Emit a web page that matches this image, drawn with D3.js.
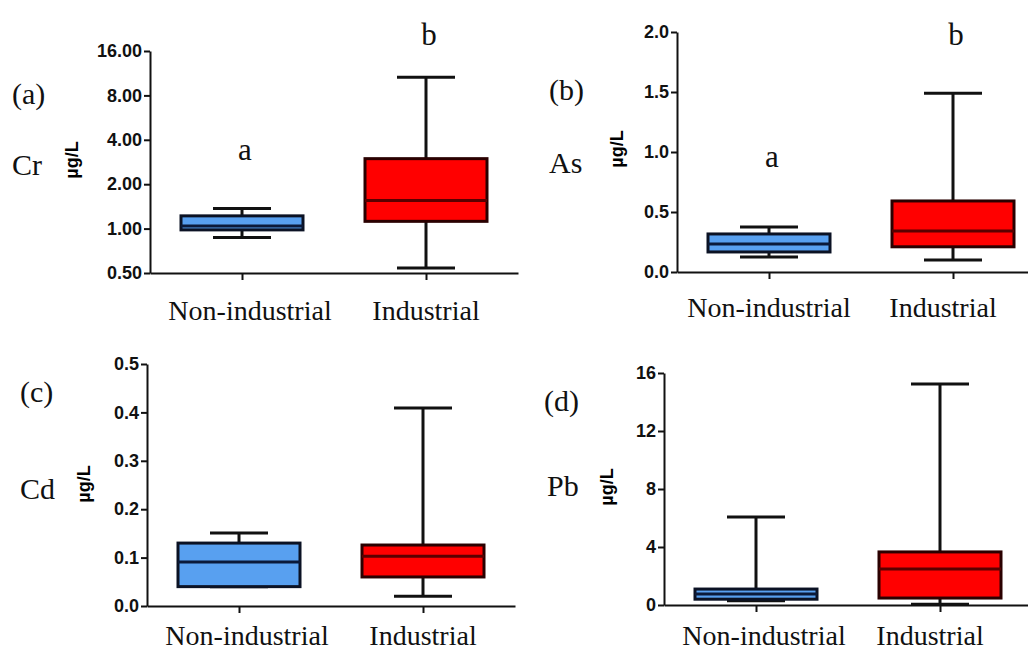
<!DOCTYPE html>
<html>
<head>
<meta charset="utf-8">
<script src="https://cdn.jsdelivr.net/npm/d3@7"></script>
<style>
    body { margin: 0; background: #fff; }
    svg { display: block; }
    .tickLbl text { font-family: "Liberation Sans", Arial, sans-serif; font-weight: bold; font-size: 18px; fill: #111; }
    .serif { font-family: "Liberation Serif", "Times New Roman", serif; fill: #111; }
</style>
</head>
<body>
<svg id="chart" width="1028" height="652"></svg>
<script>
// categories on every x axis
const categories = ['Non-industrial', 'Industrial'];

// five-number summaries: [min, q1, median, q3, max]
const crValues = [[0.87, 0.98, 1.04, 1.22, 1.37], [0.54, 1.12, 1.55, 2.98, 10.6]];
const asValues = [[0.125, 0.167, 0.233, 0.317, 0.375], [0.10, 0.21, 0.342, 0.592, 1.49]];
const cdValues = [[0.04, 0.04, 0.091, 0.130, 0.151], [0.02, 0.06, 0.103, 0.126, 0.409]];
const pbValues = [[0.3, 0.4, 0.76, 1.1, 6.07], [0.05, 0.48, 2.48, 3.66, 15.24]];

// tick values per panel
const crTicks = [0.5, 1, 2, 4, 8, 16];
const asTicks = [0, 0.5, 1, 1.5, 2];
const cdTicks = [0, 0.1, 0.2, 0.3, 0.4, 0.5];
const pbTicks = [0, 4, 8, 12, 16];

// significance letters
const crLetters = ['a', 'b'];
const asLetters = ['a', 'b'];

const fills = ['#58a0f0', '#ff0000'];
const strokes = ['#0b1224', '#2a0000'];
const medians = ['#0b1a3a', '#5a0000'];

let svg = d3.select('#chart');

function drawPanel(cfg){
    let g = svg.append('g').attr('class', 'panel');

    // y scale
    let yScale;
    if (cfg.log) {
        yScale = d3.scaleLog().base(2).domain(cfg.domain).range([cfg.bottom, cfg.top]);
    } else {
        yScale = d3.scaleLinear().domain(cfg.domain).range([cfg.bottom, cfg.top]);
    }
    // x scale - two categories
    let xScale = d3.scalePoint()
                    .domain(categories)
                    .range([cfg.left, cfg.left + 368])
                    .padding(0.5);

    // y axis
    let yAxis = g.append('g')
        .attr('class', 'tickLbl')
        .attr('transform', 'translate(' + cfg.left + ',0)')
        .call(d3.axisLeft(yScale).tickValues(cfg.ticks).tickFormat(d3.format(cfg.fmt)).tickSize(6).tickSizeOuter(0).tickPadding(2));
    yAxis.selectAll('path, line').attr('stroke', '#111').attr('stroke-width', 2);

    // x axis
    let xAxis = g.append('g')
        .attr('transform', 'translate(0,' + cfg.bottom + ')')
        .call(d3.axisBottom(xScale).tickSize(7).tickSizeOuter(0));
    xAxis.selectAll('path, line').attr('stroke', '#111').attr('stroke-width', 2);
    xAxis.selectAll('text').remove();

    // category labels
    g.selectAll('.catLbl')
        .data(categories)
        .enter()
        .append('text')
        .attr('class', 'serif')
        .attr('x', (d, i) => xScale(d) + cfg.lblShift[i])
        .attr('y', cfg.lblY)
        .attr('text-anchor', 'middle')
        .style('font-size', '28px')
        .text(d => d);

    // boxes
    let boxW = 122;
    let capW = 58;
    let boxes = g.selectAll('.box')
        .data(cfg.values)
        .enter()
        .append('g')
        .attr('class', 'box');

    boxes.each(function(d, i){
        let b = d3.select(this);
        let cx = xScale(categories[i]);
        // whiskers
        b.append('line')
            .attr('x1', cx).attr('x2', cx)
            .attr('y1', yScale(d[4])).attr('y2', yScale(d[0]))
            .attr('stroke', '#111').attr('stroke-width', 3);
        [d[0], d[4]].forEach(function(v){
            b.append('line')
                .attr('x1', cx - capW / 2).attr('x2', cx + capW / 2)
                .attr('y1', yScale(v)).attr('y2', yScale(v))
                .attr('stroke', '#111').attr('stroke-width', 3);
        });
        // box
        b.append('rect')
            .attr('x', cx - boxW / 2)
            .attr('y', yScale(d[3]))
            .attr('width', boxW)
            .attr('height', yScale(d[1]) - yScale(d[3]))
            .attr('fill', fills[i])
            .attr('stroke', strokes[i])
            .attr('stroke-width', 3);
        // median
        b.append('line')
            .attr('x1', cx - boxW / 2).attr('x2', cx + boxW / 2)
            .attr('y1', yScale(d[2])).attr('y2', yScale(d[2]))
            .attr('stroke', medians[i]).attr('stroke-width', 3);
    });

    // significance letters
    if (cfg.letters) {
        g.selectAll('.sig')
            .data(cfg.letters)
            .enter()
            .append('text')
            .attr('class', 'serif')
            .attr('x', (d, i) => xScale(categories[i]) + 3)
            .attr('y', (d, i) => cfg.letterY[i])
            .attr('text-anchor', 'middle')
            .style('font-size', '31px')
            .text(d => d);
    }

    // panel tag and element name
    g.append('text').attr('class', 'serif')
        .attr('x', cfg.tagX).attr('y', cfg.tagY)
        .style('font-size', '30px')
        .text(cfg.tag);
    g.append('text').attr('class', 'serif')
        .attr('x', cfg.nameX).attr('y', cfg.nameY)
        .style('font-size', '30px')
        .text(cfg.name);

    // unit label
    g.append('text')
        .attr('transform', 'translate(' + cfg.unitX + ',' + cfg.unitY + ') rotate(-90)')
        .attr('text-anchor', 'middle')
        .style('font-family', '"Liberation Sans", Arial, sans-serif')
        .style('font-weight', 'bold')
        .style('font-size', '18px')
        .text('µg/L');
}

drawPanel({values: crValues, ticks: crTicks, fmt: '.2f', log: true, domain: [0.5, 16],
    left: 150, top: 51, bottom: 273, lblY: 320, lblShift: [8, 0],
    letters: crLetters, letterY: [160, 45],
    tag: '(a)', tagX: 12, tagY: 104, name: 'Cr', nameX: 12, nameY: 175, unitX: 78, unitY: 160});

drawPanel({values: asValues, ticks: asTicks, fmt: '.1f', log: false, domain: [0, 2],
    left: 677, top: 32, bottom: 272, lblY: 317, lblShift: [0, -10],
    letters: asLetters, letterY: [167, 45],
    tag: '(b)', tagX: 549, tagY: 100, name: 'As', nameX: 549, nameY: 173, unitX: 623, unitY: 149});

drawPanel({values: cdValues, ticks: cdTicks, fmt: '.1f', log: false, domain: [0, 0.5],
    left: 147, top: 364, bottom: 606, lblY: 645, lblShift: [8, 0],
    tag: '(c)', tagX: 20, tagY: 402, name: 'Cd', nameX: 20, nameY: 499, unitX: 90, unitY: 484});

drawPanel({values: pbValues, ticks: pbTicks, fmt: 'd', log: false, domain: [0, 16],
    left: 664, top: 373, bottom: 605, lblY: 645, lblShift: [8, -10],
    tag: '(d)', tagX: 544, tagY: 411, name: 'Pb', nameX: 547, nameY: 496, unitX: 613, unitY: 487});
</script>
</body>
</html>
